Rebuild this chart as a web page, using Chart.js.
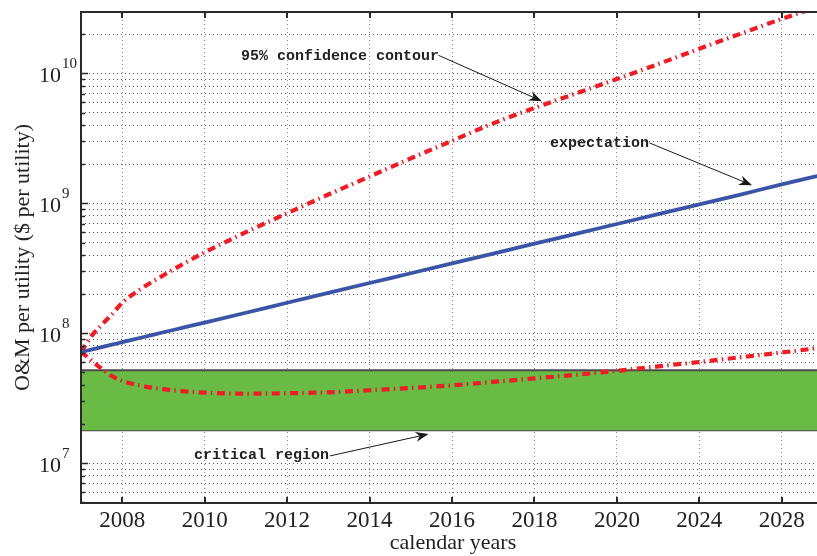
<!DOCTYPE html>
<html><head><meta charset="utf-8">
<script src="https://cdn.jsdelivr.net/npm/chart.js@4/dist/chart.umd.min.js"></script>
<style>
html,body{margin:0;padding:0;background:#fff;overflow:hidden;width:817px;height:556px}
#wrap{position:absolute;left:0;top:0;width:823px;height:556px}
</style>
</head><body><div id="wrap"><canvas id="c" width="823" height="556"></canvas></div>
<script>
// ---------------- data ----------------
const years = [2007, 2007.25, 2007.5, 2007.75, 2008, 2008.5, 2009, 2009.5, 2010, 2011, 2012, 2013, 2014, 2015, 2016, 2017, 2018, 2019, 2020, 2021, 2022, 2023, 2024, 2025];
const expectation = [7.18e7, 7.5e7, 7.83e7, 8.18e7, 8.55e7, 9.33e7, 1.02e8, 1.11e8, 1.21e8, 1.44e8, 1.72e8, 2.05e8, 2.44e8, 2.9e8, 3.45e8, 4.11e8, 4.9e8, 5.83e8, 6.94e8, 8.26e8, 9.84e8, 1.17e9, 1.4e9, 1.66e9];
const upper95 = [7.2e7, 9.5e7, 1.16e8, 1.4e8, 1.72e8, 2.25e8, 2.8e8, 3.45e8, 4.2e8, 6.0e8, 8.4e8, 1.17e9, 1.61e9, 2.22e9, 3.03e9, 4.13e9, 5.42e9, 7.0e9, 9.06e9, 1.18e10, 1.55e10, 2.02e10, 2.63e10, 3.35e10];
const lower95 = [7.2e7, 6.2e7, 5.35e7, 4.7e7, 4.3e7, 3.93e7, 3.72e7, 3.58e7, 3.5e7, 3.43e7, 3.46e7, 3.52e7, 3.65e7, 3.8e7, 3.98e7, 4.23e7, 4.5e7, 4.8e7, 5.15e7, 5.57e7, 6.02e7, 6.55e7, 7.12e7, 7.8e7];
const criticalYears = [2007, 2025];
const criticalHigh = [5.2e7, 5.2e7];
const criticalLow = [1.8e7, 1.8e7];
const xTickValues = [2008, 2010, 2012, 2014, 2016, 2018, 2020, 2022, 2024];
const xTickLabels = ['2008', '2010', '2012', '2014', '2016', '2018', '2020', '2024', '2028'];
const yDecadeExponents = [7, 8, 9, 10];
const xTitle = 'calendar years';
const yTitle = 'O&M per utility ($ per utility)';
const annotationTexts = ['95% confidence contour', 'expectation', 'critical region'];
const annotationTextAt = [[2010.88, 1.28e10], [2018.38, 2.72e9], [2009.74, 1.07e7]];
const annotationTail = [[2015.67, 1.38e10], [2020.79, 2.92e9], [2013.04, 1.14e7]];
const annotationTip = [[2018.18, 6.12e9], [2023.28, 1.38e9], [2015.43, 1.68e7]];

const X_MIN = 2007, X_MAX = 2025, Y_MIN = 4.95e6, Y_MAX = 2.97e10;

function pts(xs, ys) { return xs.map((x, i) => ({x: x, y: ys[i]})); }

const serif = '"Liberation Serif", "Times New Roman", serif';
const TXT = '#222';

const decorPlugin = {
  id: 'decor',
  afterDraw(chart) {
    const ctx = chart.ctx, a = chart.chartArea;
    const xs = chart.scales.x, ys = chart.scales.y;
    ctx.save();
    // frame
    ctx.strokeStyle = '#2a2a2a';
    ctx.lineWidth = 2;
    ctx.beginPath();
    ctx.moveTo(a.right + 2, a.top); ctx.lineTo(a.left, a.top); ctx.lineTo(a.left, a.bottom); ctx.lineTo(a.right + 2, a.bottom);
    ctx.stroke();
    // x ticks inward
    xTickValues.forEach(v => {
      const px = Math.round(xs.getPixelForValue(v));
      ctx.beginPath();
      ctx.moveTo(px, a.bottom); ctx.lineTo(px, a.bottom - 6);
      ctx.moveTo(px, a.top); ctx.lineTo(px, a.top + 6);
      ctx.stroke();
    });
    // y ticks inward
    ctx.lineWidth = 1.5;
    for (let e = 6; e <= 10; e++) {
      for (let m = 1; m <= 9; m++) {
        const v = m * Math.pow(10, e);
        if (v < Y_MIN || v > Y_MAX) continue;
        const py = Math.round(ys.getPixelForValue(v)) + 0.5;
        ctx.beginPath();
        ctx.moveTo(a.left, py); ctx.lineTo(a.left + (m === 1 ? 7 : 4), py);
        ctx.stroke();
      }
    }
    // y labels 10^n
    ctx.fillStyle = TXT;
    yDecadeExponents.forEach(e => {
      const py = ys.getPixelForValue(Math.pow(10, e));
      ctx.font = '22px ' + serif;
      ctx.textAlign = 'right'; ctx.textBaseline = 'alphabetic';
      ctx.fillText('10', 61, py + 8.5);
      ctx.font = '15px ' + serif;
      ctx.textAlign = 'left';
      ctx.fillText(String(e), 62, py - 5);
    });
    // x labels
    ctx.font = '23px ' + serif;
    ctx.textAlign = 'center';
    xTickValues.forEach((v, i) => {
      ctx.fillText(xTickLabels[i], xs.getPixelForValue(v), 527);
    });
    // titles
    ctx.font = '22px ' + serif;
    ctx.fillText(xTitle, 453, 549);
    ctx.save();
    ctx.translate(29, (a.top + a.bottom) / 2);
    ctx.rotate(-Math.PI / 2);
    ctx.fillText(yTitle, 0, 0);
    ctx.restore();
    // annotations
    ctx.font = 'bold 15px "Liberation Mono", "Courier New", monospace';
    ctx.textAlign = 'left';
    ctx.strokeStyle = '#1a1a1a';
    annotationTexts.forEach((t, i) => {
      const tx = xs.getPixelForValue(annotationTextAt[i][0]);
      const ty = ys.getPixelForValue(annotationTextAt[i][1]);
      ctx.fillStyle = TXT;
      ctx.fillText(t, tx, ty);
      const x0 = xs.getPixelForValue(annotationTail[i][0]);
      const y0 = ys.getPixelForValue(annotationTail[i][1]);
      const x1 = xs.getPixelForValue(annotationTip[i][0]);
      const y1 = ys.getPixelForValue(annotationTip[i][1]);
      const ang = Math.atan2(y1 - y0, x1 - x0);
      const L = 13, W = 5;
      ctx.lineWidth = 1;
      ctx.beginPath();
      ctx.moveTo(x0, y0);
      ctx.lineTo(x1 - Math.cos(ang) * 8, y1 - Math.sin(ang) * 8);
      ctx.stroke();
      ctx.fillStyle = '#1a1a1a';
      ctx.beginPath();
      const bx = x1 - Math.cos(ang) * L, by = y1 - Math.sin(ang) * L;
      const nx = -Math.sin(ang), ny = Math.cos(ang);
      ctx.moveTo(x1, y1);
      ctx.lineTo(bx + nx * W, by + ny * W);
      ctx.lineTo(x1 - Math.cos(ang) * (L - 4), y1 - Math.sin(ang) * (L - 4));
      ctx.lineTo(bx - nx * W, by - ny * W);
      ctx.closePath();
      ctx.fill();
    });
    ctx.restore();
  }
};

new Chart(document.getElementById('c'), {
  type: 'line',
  data: {
    datasets: [
      { label: 'expectation', data: pts(years, expectation), borderColor: '#3A55A8', borderWidth: 3.8, pointRadius: 0, fill: false, cubicInterpolationMode: 'monotone' },
      { label: '95% upper', data: pts(years, upper95), borderColor: '#EE1C25', borderWidth: 4.2, borderDash: [8, 4.2, 1.5, 4.6], borderCapStyle: 'butt', pointRadius: 0, fill: false, cubicInterpolationMode: 'monotone' },
      { label: '95% lower', data: pts(years, lower95), borderColor: '#EE1C25', borderWidth: 4.2, borderDash: [8, 4.2, 1.5, 4.6], borderCapStyle: 'butt', pointRadius: 0, fill: false, cubicInterpolationMode: 'monotone' },
      { label: 'critical high', data: pts(criticalYears, criticalHigh), borderColor: '#4a4a4a', borderWidth: 2, pointRadius: 0, fill: '+1', backgroundColor: '#6ABB46' },
      { label: 'critical low', data: pts(criticalYears, criticalLow), borderColor: '#4a4a4a', borderWidth: 2, pointRadius: 0, fill: false }
    ]
  },
  options: {
    responsive: false,
    animation: false,
    devicePixelRatio: 1,
    layout: { padding: { top: 12, left: 0, right: 0, bottom: 0 } },
    plugins: { legend: { display: false }, tooltip: { enabled: false } },
    scales: {
      x: {
        type: 'linear', min: X_MIN, max: X_MAX,
        afterBuildTicks: s => { s.ticks = xTickValues.map(v => ({value: v})); },
        afterFit: s => { s.height = 53; },
        ticks: { display: false },
        grid: { color: '#8a8a8a', lineWidth: 1, drawTicks: false },
        border: { display: false, dash: [1, 3] }
      },
      y: {
        type: 'logarithmic', min: Y_MIN, max: Y_MAX,
        afterBuildTicks: s => {
          const t = [];
          for (let e = 6; e <= 10; e++) for (let m = 1; m <= 9; m++) {
            const v = m * Math.pow(10, e);
            if (v >= Y_MIN && v <= Y_MAX) t.push({value: v});
          }
          s.ticks = t;
        },
        afterFit: s => { s.width = 81; },
        ticks: { display: false },
        grid: { color: '#555', lineWidth: 1, drawTicks: false },
        border: { display: false, dash: [1, 3] }
      }
    }
  },
  plugins: [decorPlugin]
});
</script>
</body></html>
